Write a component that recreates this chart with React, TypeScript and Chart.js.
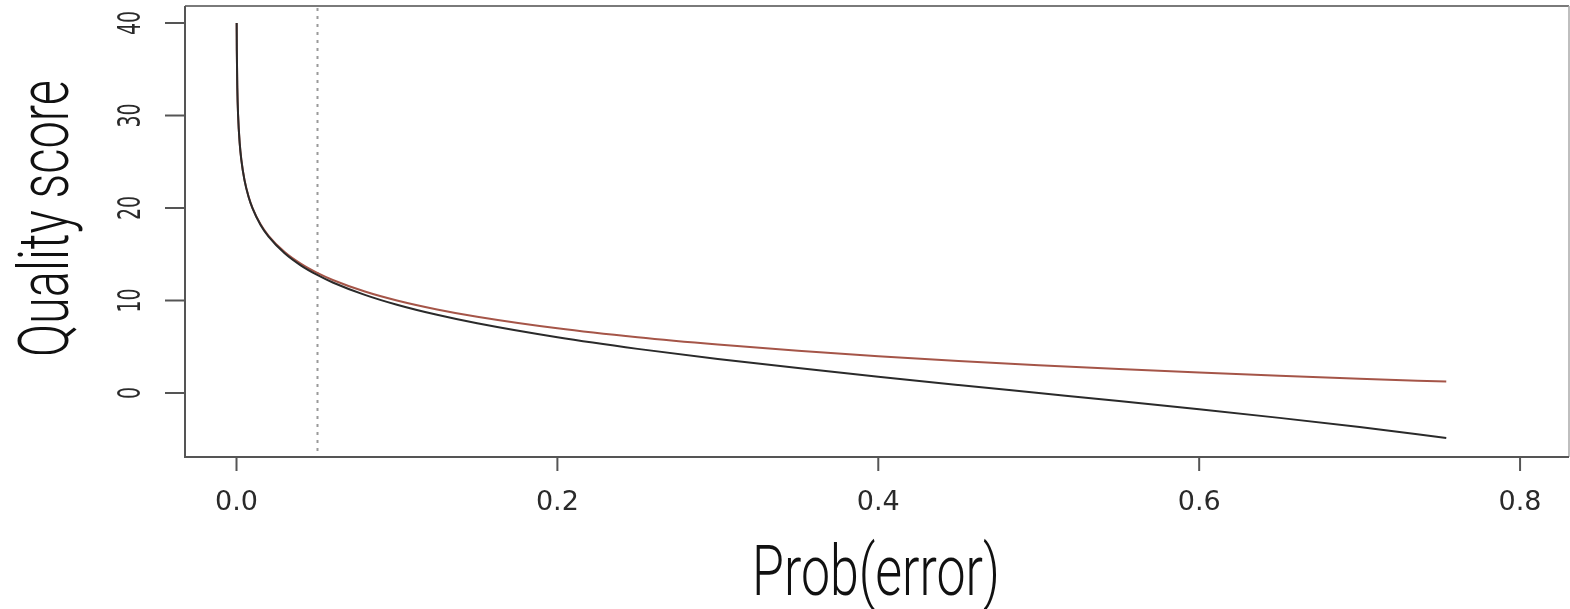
import React, { useEffect, useRef } from "react";
import { Chart, registerables } from "chart.js";

Chart.register(...registerables);

// Probability of error (x) and the quality scores
const probError = [
  0.0001, 0.0002, 0.0005, 0.001, 0.002, 0.003, 0.005, 0.0075, 0.01, 0.015,
  0.02, 0.03, 0.04, 0.05, 0.06, 0.08, 0.1, 0.125, 0.15, 0.2, 0.25, 0.3, 0.35,
  0.4, 0.45, 0.5, 0.55, 0.6, 0.65, 0.7, 0.754,
];
const phredScore = [
  40.0, 36.99, 33.01, 30.0, 26.99, 25.23, 23.01, 21.25, 20.0, 18.24, 16.99,
  15.23, 13.98, 13.01, 12.22, 10.97, 10.0, 9.03, 8.24, 6.99, 6.02, 5.23, 4.56,
  3.98, 3.47, 3.01, 2.6, 2.22, 1.87, 1.55, 1.23,
];
const solexaScore = [
  40.0, 36.99, 33.01, 30.0, 26.98, 25.21, 22.99, 21.22, 19.96, 18.17, 16.9,
  15.1, 13.8, 12.79, 11.95, 10.61, 9.54, 8.45, 7.53, 6.02, 4.77, 3.68, 2.69,
  1.76, 0.87, 0.0, -0.87, -1.76, -2.69, -3.68, -4.86,
];
const cutoffProb = [0.05];

const xTickValues = [0, 0.2, 0.4, 0.6, 0.8];
const xTickLabels = ["0.0", "0.2", "0.4", "0.6", "0.8"];
const yTickValues = [0, 10, 20, 30, 40];
const yTickLabels = ["0", "10", "20", "30", "40"];

const xTitle = "Prob(error)";
const yTitle = "Quality score";

const W = 1570;
const H = 609;

const decorPlugin = {
  id: "rDecor",
  beforeDatasetsDraw(chart: any) {
    const { ctx, chartArea, scales } = chart;
    ctx.save();
    ctx.strokeStyle = "#9a9a9a";
    ctx.lineWidth = 2;
    ctx.setLineDash([3, 5]);
    for (const c of cutoffProb) {
      const x = Math.round(scales.x.getPixelForValue(c)) + 0.5;
      ctx.beginPath();
      ctx.moveTo(x, chartArea.top + 2);
      ctx.lineTo(x, chartArea.bottom);
      ctx.stroke();
    }
    ctx.restore();
  },
  afterDraw(chart: any) {
    const { ctx, chartArea, scales } = chart;
    const { left, right, top, bottom } = chartArea;
    ctx.save();
    // box
    ctx.lineWidth = 2;
    ctx.strokeStyle = "#7a7a7a";
    ctx.beginPath();
    ctx.moveTo(left, top);
    ctx.lineTo(right, top);
    ctx.stroke();
    ctx.strokeStyle = "#aaaaaa";
    ctx.lineWidth = 1.5;
    ctx.beginPath();
    ctx.moveTo(right, top);
    ctx.lineTo(right, bottom);
    ctx.stroke();
    ctx.strokeStyle = "#555555";
    ctx.lineWidth = 2;
    ctx.beginPath();
    ctx.moveTo(left, top);
    ctx.lineTo(left, bottom);
    ctx.lineTo(right, bottom);
    ctx.stroke();

    // y ticks + rotated labels
    ctx.strokeStyle = "#555555";
    ctx.fillStyle = "#2a2a2a";
    yTickValues.forEach((v, i) => {
      const y = scales.y.getPixelForValue(v);
      ctx.beginPath();
      ctx.moveTo(left - 20, y);
      ctx.lineTo(left, y);
      ctx.stroke();
      ctx.save();
      ctx.translate(128.5, y);
      ctx.rotate(-Math.PI / 2);
      ctx.scale(1, 1.65);
      ctx.font = "19px 'DejaVu Sans'";
      ctx.textAlign = "center";
      ctx.textBaseline = "alphabetic";
      ctx.fillText(yTickLabels[i], 0, 6.9);
      ctx.restore();
    });

    // x ticks + labels
    ctx.font = "27px 'DejaVu Sans'";
    ctx.textAlign = "center";
    ctx.textBaseline = "alphabetic";
    xTickValues.forEach((v, i) => {
      const x = scales.x.getPixelForValue(v);
      ctx.beginPath();
      ctx.moveTo(x, bottom);
      ctx.lineTo(x, bottom + 14);
      ctx.stroke();
      ctx.fillText(xTickLabels[i], x, 510);
    });

    // titles (condensed look)
    ctx.fillStyle = "#111111";
    ctx.font = "300 70px Roboto";
    ctx.textAlign = "center";
    ctx.textBaseline = "alphabetic";
    {
      const w = ctx.measureText(xTitle).width;
      const sx = 248 / w;
      ctx.save();
      ctx.translate(876, 595);
      ctx.scale(sx, 1);
      ctx.fillText(xTitle, 0, 0);
      ctx.restore();
    }
    {
      const w = ctx.measureText(yTitle).width;
      const sx = 277 / w;
      ctx.save();
      ctx.translate(68, 218.5);
      ctx.rotate(-Math.PI / 2);
      ctx.scale(sx, 1);
      ctx.fillText(yTitle, 0, 0);
      ctx.restore();
    }
    ctx.restore();
  },
};

export default function App() {
  const ref = useRef<HTMLCanvasElement | null>(null);
  useEffect(() => {
    if (!ref.current) return;
    const solexaPts = probError.map((p, i) => ({ x: p, y: solexaScore[i] }));
    const phredPts = probError.map((p, i) => ({ x: p, y: phredScore[i] }));
    const chart = new Chart(ref.current, {
      type: "line",
      data: {
        datasets: [
          {
            label: "Solexa",
            data: solexaPts,
            borderColor: "#2a2a2a",
            borderWidth: 2,
            pointRadius: 0,
            cubicInterpolationMode: "monotone",
          },
          {
            label: "Phred",
            data: phredPts,
            borderColor: "rgb(165,85,72)",
            borderWidth: 2,
            pointRadius: 0,
            cubicInterpolationMode: "monotone",
          },
        ],
      },
      options: {
        animation: false,
        responsive: false,
        events: [],
        layout: { padding: { left: 185, right: 1, top: 6, bottom: 152 } },
        plugins: { legend: { display: false }, tooltip: { enabled: false } },
        scales: {
          x: { type: "linear", min: -0.0321, max: 0.8305, display: false },
          y: { type: "linear", min: -6.92, max: 41.84, display: false },
        },
      },
      plugins: [decorPlugin],
    } as any);
    return () => chart.destroy();
  }, []);
  return (
    <div style={{ position: "absolute", left: 0, top: 0, width: W, height: H, background: "#fff" }}>
      <canvas ref={ref} width={W} height={H} style={{ width: W, height: H, display: "block" }} />
    </div>
  );
}
